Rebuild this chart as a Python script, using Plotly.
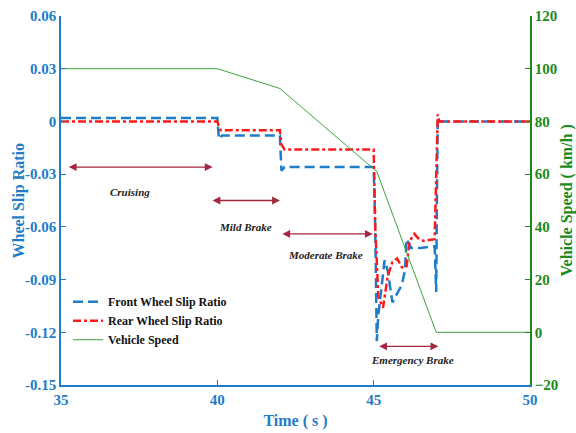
import plotly.graph_objects as go

# ---- data ----
time_front = [35, 40, 40.05, 40.15, 42, 42.05, 42.15, 45, 45.05, 45.1, 45.15, 45.25, 45.35, 45.45,
              45.6, 45.75, 45.9, 46.0, 46.05, 46.2, 46.5, 46.95, 47.0, 47.02, 47.05, 47.1, 50]
front_slip = [0.002, 0.002, -0.01, -0.008, -0.008, -0.028, -0.026, -0.026, -0.06, -0.125, -0.11,
              -0.095, -0.079, -0.085, -0.103, -0.098, -0.093, -0.085, -0.067, -0.072, -0.072,
              -0.071, -0.097, -0.05, 0.002, 0, 0]

time_rear = [35, 40, 40.05, 40.1, 42, 42.05, 42.15, 45, 45.05, 45.15, 45.3, 45.45, 45.6, 45.75,
             45.9, 46.05, 46.15, 46.3, 46.45, 46.6, 46.95, 47.0, 47.05, 47.1, 50]
rear_slip = [0, 0, -0.003, -0.005, -0.005, -0.013, -0.016, -0.016, -0.06, -0.1, -0.106, -0.088,
             -0.08, -0.078, -0.083, -0.083, -0.068, -0.064, -0.067, -0.068, -0.067, -0.03, 0.004, 0, 0]

time_speed = [35, 40, 42, 45.1, 47, 50]
vehicle_speed = [100, 100, 92.5, 61, 0, 0]

phase_labels = ["Cruising", "Mild Brake", "Moderate Brake", "Emergency Brake"]
phase_start = [35.2, 39.8, 42.03, 45.13]
phase_end = [39.85, 42.0, 44.97, 47.07]
phase_arrow_y = [-0.026, -0.045, -0.064, -0.128]
phase_label_x = [37.2, 40.9, 43.45, 46.25]
phase_label_y = [-0.040, -0.060, -0.076, -0.136]

slip_ticks = [-0.15, -0.12, -0.09, -0.06, -0.03, 0, 0.03, 0.06]
slip_ticktext = ["-0.15", "-0.12", "-0.09", "-0.06", "-0.03", "0", "0.03", "0.06"]
speed_ticks = [-20, 0, 20, 40, 60, 80, 100, 120]
time_ticks = [35, 40, 45, 50]

BLUE = "#1f7cc6"
GREEN = "#1a8a1a"
RED = "#ff1a1a"
ARROW = "#a3283f"
FONT = "Liberation Serif"

fig = go.Figure()
fig.add_trace(go.Scatter(x=time_front, y=front_slip, mode="lines", name="Front Wheel Slip Ratio",
                         line=dict(color=BLUE, width=2.5, dash="10px,5px")))
fig.add_trace(go.Scatter(x=time_rear, y=rear_slip, mode="lines", name="Rear Wheel Slip Ratio",
                         line=dict(color=RED, width=2.5, dash="8px,3px,3px,3px")))
fig.add_trace(go.Scatter(x=time_speed, y=vehicle_speed, mode="lines", name="Vehicle Speed",
                         line=dict(color="#3da33d", width=1), yaxis="y2"))

for lab, x0, x1, ya, lx, ly in zip(phase_labels, phase_start, phase_end, phase_arrow_y,
                                   phase_label_x, phase_label_y):
    fig.add_annotation(x=x1, y=ya, ax=x0, ay=ya, xref="x", yref="y", axref="x", ayref="y",
                       showarrow=True, arrowhead=2, startarrowhead=2, arrowside="end+start",
                       arrowsize=1.2, arrowwidth=1.3, arrowcolor=ARROW, text="")
    fig.add_annotation(x=lx, y=ly, xref="x", yref="y", text="<b><i>" + lab + "</i></b>",
                       showarrow=False, font=dict(family=FONT, size=11, color="#222222"))

# axis titles placed as rotated annotations
fig.add_annotation(x=18, y=0.5, xref="paper", yref="paper", text="<b>Wheel Slip Ratio</b>",
                   textangle=-90, showarrow=False, font=dict(family=FONT, size=16, color=BLUE))
fig.update_layout(annotations=list(fig.layout.annotations))
fig.layout.annotations[-1].update(xref="paper", x=(18 - 61) / 469, xanchor="center")
fig.add_annotation(x=(566 - 61) / 469, y=0.5, xref="paper", yref="paper",
                   text="<b>Vehicle Speed ( km/h )</b>", textangle=-90, showarrow=False,
                   xanchor="center", font=dict(family=FONT, size=16, color=GREEN))

fig.update_layout(
    width=576, height=433,
    margin=dict(l=61, r=46, t=16, b=48),
    plot_bgcolor="white", paper_bgcolor="white",
    font=dict(family=FONT),
    showlegend=True,
    legend=dict(x=0.015, y=0.265, xanchor="left", yanchor="top", bgcolor="rgba(0,0,0,0)",
                font=dict(family=FONT, size=12, color="#111111", weight="bold"),
                tracegroupgap=0, itemwidth=30),
    xaxis=dict(range=[35, 50], tickvals=time_ticks, ticks="inside", ticklen=5, automargin=False,
               showline=True, linecolor=BLUE, linewidth=1.5, tickcolor=BLUE, showgrid=False,
               zeroline=False, tickfont=dict(family=FONT, size=15, color=BLUE, weight="bold"),
               title=dict(text="Time ( s )", font=dict(family=FONT, size=16, color=BLUE, weight="bold"),
                          standoff=8)),
    yaxis=dict(range=[-0.15, 0.06], tickvals=slip_ticks, ticktext=slip_ticktext, ticks="inside",
               ticklen=5, showline=True, linecolor=BLUE, linewidth=1.5, tickcolor=BLUE,
               showgrid=False, zeroline=False, automargin=False,
               tickfont=dict(family=FONT, size=15, color=BLUE, weight="bold")),
    yaxis2=dict(range=[-20, 120], tickvals=speed_ticks, overlaying="y", side="right", ticks="inside",
                ticklen=5, showline=True, linecolor=GREEN, linewidth=1.5, tickcolor=GREEN,
                showgrid=False, zeroline=False, automargin=False,
                tickfont=dict(family=FONT, size=15, color=GREEN, weight="bold")),
)

fig.write_html("out.html")
